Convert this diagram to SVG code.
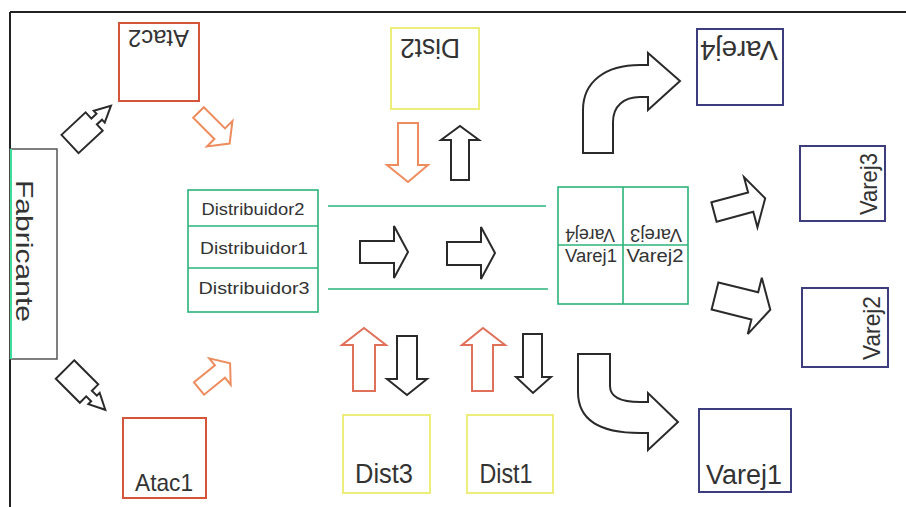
<svg xmlns="http://www.w3.org/2000/svg" width="906" height="507" viewBox="0 0 906 507">
<style>
text{font-family:"Liberation Sans",Arial,sans-serif;fill:#333;}
.grn{fill:none;stroke:#2bb37a;stroke-width:1.6;}
.atac{fill:#fff;stroke:#d4553a;stroke-width:2;}
.dist{fill:#fff;stroke:#eded7a;stroke-width:2;}
.varej{fill:#fff;stroke:#3d3d7d;stroke-width:2;}
.blk{fill:#fff;stroke:#2a2a2a;stroke-width:2;stroke-linejoin:miter;}
.org{fill:#fff;stroke:#ee8c5e;stroke-width:2;}
.red{fill:#fff;stroke:#e0705a;stroke-width:2;}
.big{font-size:27px;}
.mid{font-size:24px;}
.sm{font-size:18px;}
.ds{font-size:17px;}
</style>
<rect width="906" height="507" fill="#fff"/>
<g id="frame">
<line x1="10" y1="12" x2="906" y2="12" stroke="#222" stroke-width="2"/>
<line x1="10" y1="12" x2="10" y2="507" stroke="#222" stroke-width="2"/>
</g>
<g id="connectors">
<line class="grn" x1="328" y1="206" x2="546" y2="206"/>
<line class="grn" x1="328" y1="289" x2="548" y2="289"/>
<path class="blk" transform="translate(70,144) rotate(-43)" d="M0,-12.5 L33,-12.5 L33,-4 L40,-4 L40,-8 L56,0 L40,8 L40,4 L33,4 L33,12.5 L0,12.5 Z"/>
<path class="blk" transform="translate(65,369.5) rotate(45)" d="M0,-13 L34,-13 L34,-4 L41,-4 L41,-8 L57,0 L41,8 L41,4 L34,4 L34,13 L0,13 Z"/>
<path class="org" transform="translate(198.5,112.5) rotate(45)" d="M0,-7.5 L30,-7.5 L30,-18 L44,0 L30,18 L30,7.5 L0,7.5 Z"/>
<path class="org" transform="translate(199,388.5) rotate(-39)" d="M0,-8 L27,-8 L27,-17 L40,0 L27,17 L27,8 L0,8 Z"/>
<path class="blk" d="M360,241 L394,241 L394,226 L408,252 L394,278 L394,263 L360,263 Z"/>
<path class="blk" d="M447,242 L481,242 L481,227 L495,253 L481,279 L481,265 L447,265 Z"/>
<path class="org" d="M398,123 L418,123 L418,165 L428,165 L408,182 L387,165 L398,165 Z"/>
<path class="blk" d="M451,180 L451,140 L441,140 L460,126 L479,140 L469,140 L469,180 Z"/>
<path class="red" d="M353,391 L353,345 L342,345 L364,328 L386,345 L375,345 L375,391 Z"/>
<path class="blk" d="M397,336 L417,336 L417,379 L427,379 L407,395 L387,379 L397,379 Z"/>
<path class="red" d="M472,391 L472,345 L462,345 L483,328 L505,345 L493,345 L493,391 Z"/>
<path class="blk" d="M523,334 L542,334 L542,377 L551,377 L533,393 L516,377 L523,377 Z"/>
<path class="blk" d="M583,153 L583,110 C583,82 605,65 640,65 L648,65 L648,53 L680,81 L648,110 L648,97 L640,97 C624,97 613,106 613,122 L613,153 Z"/>
<path class="blk" d="M578,354 L610,354 L610,386 C610,396 620,402 640,402 L648,402 L648,393 L678,422 L648,450 L648,433 L640,433 C600,433 578,420 578,392 Z"/>
<path class="blk" transform="translate(714,212) rotate(-15)" d="M0,-10 L38,-10 L38,-26 L53,0 L38,26 L38,10 L0,10 Z"/>
<path class="blk" transform="translate(715,296) rotate(14)" d="M0,-14 L41,-14 L41,-29 L57,0 L41,29 L41,14 L0,14 Z"/>
</g>
<g id="fabricante">
<rect x="10" y="149" width="47" height="210" fill="#fff" stroke="#555" stroke-width="1.5"/>
<line x1="11" y1="149" x2="11" y2="359" stroke="#3ddc9a" stroke-width="2"/>
<text class="mid" transform="translate(16,251) rotate(90)" text-anchor="middle" textLength="142" lengthAdjust="spacingAndGlyphs">Fabricante</text>
</g>
<g id="atac2">
<rect class="atac" x="119" y="23" width="80" height="78"/>
<text class="mid" x="158.5" y="47" text-anchor="middle" transform="rotate(180 158.5 38.5)" textLength="61" lengthAdjust="spacingAndGlyphs">Atac2</text>
</g>
<g id="atac1">
<rect class="atac" x="123" y="418" width="83" height="80"/>
<text class="mid" x="164" y="491" text-anchor="middle" textLength="58" lengthAdjust="spacingAndGlyphs">Atac1</text>
</g>
<g id="distribuidores">
<rect class="grn" x="188" y="190" width="130" height="122"/>
<line class="grn" x1="188" y1="226" x2="318" y2="226"/>
<line class="grn" x1="188" y1="268" x2="318" y2="268"/>
<text class="ds" x="253" y="215" text-anchor="middle" textLength="103" lengthAdjust="spacingAndGlyphs">Distribuidor2</text>
<text class="ds" x="254" y="254" text-anchor="middle" textLength="108" lengthAdjust="spacingAndGlyphs">Distribuidor1</text>
<text class="ds" x="254" y="294" text-anchor="middle" textLength="111" lengthAdjust="spacingAndGlyphs">Distribuidor3</text>
</g>
<g id="dist2">
<rect class="dist" x="391" y="28" width="88" height="81"/>
<text class="big" x="430" y="59" text-anchor="middle" transform="rotate(180 430 49)" textLength="60" lengthAdjust="spacingAndGlyphs">Dist2</text>
</g>
<g id="dist3">
<rect class="dist" x="343" y="415" width="87" height="78"/>
<text class="big" x="384" y="483" text-anchor="middle" textLength="58" lengthAdjust="spacingAndGlyphs">Dist3</text>
</g>
<g id="dist1">
<rect class="dist" x="467" y="415" width="86" height="78"/>
<text class="big" x="506" y="483" text-anchor="middle" textLength="53" lengthAdjust="spacingAndGlyphs">Dist1</text>
</g>
<g id="varejos">
<rect class="grn" x="558" y="187" width="130" height="117"/>
<line class="grn" x1="623" y1="187" x2="623" y2="304"/>
<line class="grn" x1="558" y1="245" x2="688" y2="245"/>
<text class="sm" x="590" y="242" text-anchor="middle" transform="rotate(180 590 235.5)" textLength="50" lengthAdjust="spacingAndGlyphs">Varej4</text>
<text class="sm" x="656" y="242" text-anchor="middle" transform="rotate(180 656 235.5)" textLength="52" lengthAdjust="spacingAndGlyphs">Varej3</text>
<text class="sm" x="591" y="262" text-anchor="middle" textLength="52" lengthAdjust="spacingAndGlyphs">Varej1</text>
<text class="sm" x="655" y="262" text-anchor="middle" textLength="57" lengthAdjust="spacingAndGlyphs">Varej2</text>
</g>
<g id="varej4">
<rect class="varej" x="697" y="29" width="86" height="76"/>
<text class="big" x="739" y="61" text-anchor="middle" transform="rotate(180 739 51)" textLength="78" lengthAdjust="spacingAndGlyphs">Varej4</text>
</g>
<g id="varej3">
<rect class="varej" x="800" y="146" width="85" height="75"/>
<text class="mid" transform="translate(877,184) rotate(-90)" text-anchor="middle" textLength="62" lengthAdjust="spacingAndGlyphs">Varej3</text>
</g>
<g id="varej2">
<rect class="varej" x="802" y="288" width="86" height="79"/>
<text class="mid" transform="translate(880,328) rotate(-90)" text-anchor="middle" textLength="64" lengthAdjust="spacingAndGlyphs">Varej2</text>
</g>
<g id="varej1">
<rect class="varej" x="699" y="409" width="92" height="83"/>
<text class="big" x="744" y="484" text-anchor="middle" textLength="76" lengthAdjust="spacingAndGlyphs">Varej1</text>
</g>
</svg>
